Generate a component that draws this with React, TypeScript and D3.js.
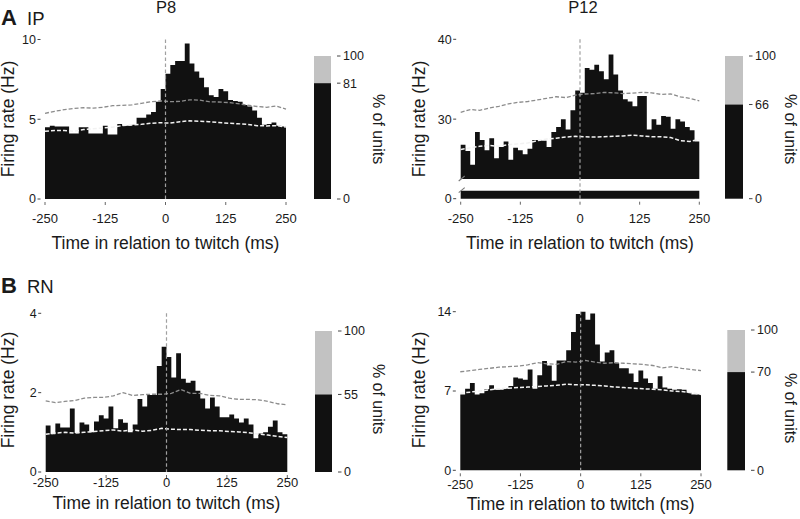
import React from 'react';
import * as d3 from 'd3';

// ---------- DATA ----------
const binStarts = [-250,-240,-230,-220,-210,-200,-190,-180,-170,-160,-150,-140,-130,-120,-110,-100,-90,-80,-70,-60,-50,-40,-30,-20,-10,0,10,20,30,40,50,60,70,80,90,100,110,120,130,140,150,160,170,180,190,200,210,220,230,240];
const binWidth = 10;
const lineTimes = [-250,-230,-210,-190,-170,-150,-130,-110,-90,-70,-50,-30,-10,10,30,50,70,90,110,130,150,170,190,210,230,250];
const xTickValues = [-250, -125, 0, 125, 250];

// IP, P8
const ipP8Rates = [4.5,4.6,4.55,4.55,4.55,4.1,4.1,4.5,4.5,4.1,4.1,4.1,4.6,4.05,4.05,4.7,4.6,4.6,4.65,5.1,5.1,5.3,5.45,6.1,6.9,7.85,8.4,8.65,8.65,9.75,8.5,8.0,7.6,7.0,6.5,6.4,6.9,6.75,6.2,6.15,6.1,5.9,5.8,5.55,5.1,4.65,4.7,4.8,4.6,4.55];
const ipP8Upper = [5.37,5.5,5.6,5.68,5.72,5.7,5.75,5.85,5.87,5.9,6.0,6.1,6.15,6.1,6.12,6.22,6.2,6.1,6.08,6.05,5.98,5.88,5.8,5.75,5.83,5.64];
const ipP8Mean = [4.25,4.3,4.3,4.25,4.35,4.4,4.45,4.5,4.6,4.65,4.68,4.75,4.78,4.76,4.85,4.9,4.88,4.85,4.8,4.75,4.72,4.68,4.6,4.58,4.6,4.52];
const ipP8Pct = 81;
const ipP8YTicks = [0, 5, 10];

// IP, P12
const ipP12Rates = [26.8,26.0,24.3,28.4,27.4,26.1,27.6,25.1,26.5,27.2,24.9,26.4,26.1,25.6,26.3,27.4,27.4,27.3,26.5,28.4,29.0,30.0,28.7,31.1,33.6,33.3,36.4,36.2,36.8,36.0,35.0,38.1,35.6,33.6,32.5,32.2,31.6,32.9,32.9,28.7,30.0,29.3,30.4,30.3,28.8,30.0,29.7,29.0,28.6,27.2];
const ipP12Upper = [30.85,31.2,31.1,31.4,31.6,31.9,32.1,32.2,32.4,32.6,32.8,32.7,33.0,33.15,33.2,33.35,33.3,33.2,33.25,33.35,33.3,33.1,33.15,32.8,32.6,32.3];
const ipP12Mean = [26.2,26.4,26.6,26.7,26.6,26.8,26.9,27.0,27.3,27.5,27.6,27.75,27.85,27.8,27.75,27.8,27.85,27.9,28.0,27.9,27.8,27.8,27.7,27.3,27.2,27.45];
const ipP12Pct = 66;
const ipP12YTicks = [0, 30, 40];

// RN, P8
const rnP8Rates = [1.17,0.95,1.22,1.12,1.12,1.6,0.98,1.25,1.2,1.0,1.27,1.43,1.35,1.65,1.1,1.33,1.24,1.0,1.2,1.84,1.65,1.94,1.94,2.67,3.16,2.9,2.38,2.99,2.35,2.25,2.3,2.05,1.85,1.6,1.88,1.65,1.38,1.38,1.45,1.35,1.25,1.35,1.2,0.85,0.97,1.0,1.14,1.3,1.0,0.95];
const rnP8Upper = [1.79,1.75,1.78,1.8,1.86,1.88,1.88,1.92,2.0,1.93,1.95,1.96,1.96,1.98,2.08,1.98,1.98,1.93,1.92,1.86,1.83,1.83,1.82,1.78,1.72,1.69];
const rnP8Mean = [0.95,0.98,1.0,0.98,1.0,1.02,1.04,1.06,1.03,1.06,1.03,1.05,1.1,1.08,1.07,1.07,1.05,1.04,1.04,1.02,1.01,0.99,0.96,0.93,0.9,0.87];
const rnP8Pct = 55;
const rnP8YTicks = [0, 2, 4];

// RN, P12
const rnP12Rates = [6.7,7.2,7.7,6.7,6.8,7.15,7.5,7.1,7.1,7.2,7.45,8.2,8.1,8.0,8.9,7.2,8.4,9.65,9.25,7.9,9.7,9.7,10.6,12.2,13.8,14.0,13.3,13.85,11.1,9.6,10.4,10.6,9.45,9.0,9.0,8.55,7.8,8.8,8.1,7.7,7.2,8.3,7.3,7.2,7.1,7.15,7.1,6.85,6.7,6.7];
const rnP12Upper = [8.7,8.8,8.9,9.0,9.1,9.15,9.2,9.3,9.5,9.4,9.35,9.6,9.55,9.7,9.55,9.45,9.5,9.45,9.4,9.35,9.25,9.05,9.15,9.0,8.9,8.8];
const rnP12Mean = [6.8,6.9,7.0,7.1,7.2,7.25,7.3,7.35,7.4,7.45,7.5,7.6,7.55,7.55,7.5,7.45,7.35,7.3,7.25,7.2,7.15,7.1,7.0,6.95,6.85,6.7];
const rnP12Pct = 70;
const rnP12YTicks = [0, 7, 14];

// ---------- LAYOUT ----------
const FONT = '"Liberation Sans", Arial, Helvetica, sans-serif';
const TEXT = '#1a1a1a';

const layoutIpP8 = {
  x0: 45, x1: 286, yMin: 0, yMax: 10, yMinPx: 199, yMaxPx: 39.5,
  cb: { x: 314, w: 17, top: 56, bottom: 199 },
  tickLabelY: 222.5, titleY: 249, yLabelX: 14, yLabelY: 119, pctLabelX: 373, pctLabelY: 129,
};
const layoutIpP12 = {
  x0: 460.7, x1: 699.3, yMin: 22.5, yMax: 40, yMinPx: 179, yMaxPx: 39.3,
  broken: { max: 1, top: 190.7, bottom: 198.7 },
  cb: { x: 725, w: 18, top: 56, bottom: 198.7 },
  tickLabelY: 222.5, titleY: 249, yLabelX: 425, yLabelY: 119, pctLabelX: 785, pctLabelY: 129,
};
const layoutRnP8 = {
  x0: 45.7, x1: 287.3, yMin: 0, yMax: 4, yMinPx: 472, yMaxPx: 313.3,
  cb: { x: 315, w: 17, top: 331, bottom: 472 },
  tickLabelY: 487, titleY: 509, yLabelX: 14, yLabelY: 390, pctLabelX: 373, pctLabelY: 399,
};
const layoutRnP12 = {
  x0: 460.3, x1: 701, yMin: 0, yMax: 14, yMinPx: 470.3, yMaxPx: 311.7,
  cb: { x: 727.3, w: 17.7, top: 330, bottom: 470.3 },
  tickLabelY: 489, titleY: 510, yLabelX: 425, yLabelY: 390, pctLabelX: 785, pctLabelY: 408,
};

type PanelProps = { cfg: any; rates: number[]; upper: number[]; mean: number[]; pct: number; yTicks: number[] };

function Panel({ cfg, rates, upper, mean, pct, yTicks }: PanelProps) {
  const x = d3.scaleLinear().domain([-250, 250]).range([cfg.x0, cfg.x1]);
  const y = d3.scaleLinear().domain([cfg.yMin, cfg.yMax]).range([cfg.yMinPx, cfg.yMaxPx]);
  const yLow = cfg.broken
    ? d3.scaleLinear().domain([0, cfg.broken.max]).range([cfg.broken.bottom, cfg.broken.top])
    : null;
  const bottomPx = cfg.broken ? cfg.broken.bottom : y(0);

  const pts: [number, number][] = binStarts.map((t, i) => [t, rates[i]] as [number, number]);
  pts.push([binStarts[binStarts.length - 1] + binWidth, rates[rates.length - 1]]);

  const area = d3.area<[number, number]>()
    .curve(d3.curveStepAfter)
    .x(d => x(d[0]))
    .y0(y(cfg.yMin))
    .y1(d => y(Math.max(d[1], cfg.yMin)));

  const lowArea = yLow
    ? d3.area<[number, number]>()
        .curve(d3.curveStepAfter)
        .x(d => x(d[0]))
        .y0(yLow(0))
        .y1(d => yLow(Math.min(d[1], cfg.broken.max)))
    : null;

  const line = d3.line<number>()
    .x((_, i) => x(lineTimes[i]))
    .y(d => y(d));

  const cbScale = d3.scaleLinear().domain([0, 100]).range([cfg.cb.bottom, cfg.cb.top]);
  const cbTicks = [0, pct, 100];

  const yPos = (v: number) => (yLow && v < cfg.yMin ? yLow(v) : y(v));
  const midX = (cfg.x0 + cfg.x1) / 2;

  return (
    <g>
      <path d={area(pts) || ''} fill="#111" />
      {lowArea && <path d={lowArea(pts) || ''} fill="#111" />}
      {cfg.broken && (
        <g stroke="#777" strokeWidth={1.1}>
          <line x1={cfg.x0 - 2} y1={cfg.yMinPx + 2} x2={cfg.x0 + 4} y2={cfg.yMinPx - 3} />
          <line x1={cfg.x0 - 2} y1={cfg.broken.top + 2} x2={cfg.x0 + 4} y2={cfg.broken.top - 3} />
        </g>
      )}
      <path d={line(upper) || ''} fill="none" stroke="#8c8c8c" strokeWidth={1.3} strokeDasharray="4,2" />
      <path d={line(mean) || ''} fill="none" stroke="#f2f2f2" strokeWidth={1.5} strokeDasharray="4,2" />
      <line x1={x(0)} x2={x(0)} y1={y(cfg.yMax)} y2={bottomPx} stroke="#a0a0a0" strokeWidth={1.2} strokeDasharray="3.5,2.5" />

      {/* y ticks */}
      {yTicks.map(v => (
        <g key={'y' + v}>
          <text x={cfg.x0 - 9} y={yPos(v)} dy="0.35em" textAnchor="end" fontSize={12.5} fontFamily={FONT} fill={TEXT}>{v}</text>
          <line x1={cfg.x0 - 7.5} x2={cfg.x0 - 4.5} y1={yPos(v)} y2={yPos(v)} stroke="#444" strokeWidth={1} />
        </g>
      ))}

      {/* x ticks */}
      {xTickValues.map(v => (
        <g key={'x' + v}>
          <line x1={x(v)} x2={x(v)} y1={bottomPx + 3} y2={bottomPx + 6} stroke="#666" strokeWidth={1} />
          <text x={x(v)} y={cfg.tickLabelY} textAnchor="middle" fontSize={13} fontFamily={FONT} fill={TEXT}>{v}</text>
        </g>
      ))}
      <text x={midX} y={cfg.titleY} textAnchor="middle" fontSize={17.5} fontFamily={FONT} fill={TEXT}>Time in relation to twitch (ms)</text>
      <text transform={`translate(${cfg.yLabelX},${cfg.yLabelY}) rotate(-90)`} textAnchor="middle" fontSize={17.5} fontFamily={FONT} fill={TEXT}>Firing rate (Hz)</text>

      {/* colour bar */}
      <rect x={cfg.cb.x} y={cbScale(100)} width={cfg.cb.w} height={cbScale(pct) - cbScale(100)} fill="#c2c2c2" />
      <rect x={cfg.cb.x} y={cbScale(pct)} width={cfg.cb.w} height={cbScale(0) - cbScale(pct)} fill="#111" />
      {cbTicks.map(v => (
        <g key={'c' + v}>
          <line x1={cfg.cb.x + cfg.cb.w + 6} x2={cfg.cb.x + cfg.cb.w + 9.5} y1={cbScale(v)} y2={cbScale(v)} stroke="#444" strokeWidth={1} />
          <text x={cfg.cb.x + cfg.cb.w + 12} y={cbScale(v)} dy="0.35em" fontSize={12.5} fontFamily={FONT} fill={TEXT}>{v}</text>
        </g>
      ))}
      <text transform={`translate(${cfg.pctLabelX},${cfg.pctLabelY}) rotate(90)`} textAnchor="middle" fontSize={16} fontFamily={FONT} fill={TEXT}>% of units</text>
    </g>
  );
}

export default function App() {
  return (
    <svg width={800} height={519} viewBox="0 0 800 519" style={{ position: 'absolute', left: 0, top: 0, background: '#fff' }}>
      <rect x={0} y={0} width={800} height={519} fill="#fff" />
      <text x={1} y={24.5} fontSize={22} fontWeight="bold" fontFamily={FONT} fill={TEXT}>A</text>
      <text x={27} y={24.5} fontSize={18.5} fontFamily={FONT} fill={TEXT}>IP</text>
      <text x={1} y={293} fontSize={22} fontWeight="bold" fontFamily={FONT} fill={TEXT}>B</text>
      <text x={27} y={293} fontSize={18.5} fontFamily={FONT} fill={TEXT}>RN</text>
      <text x={166} y={13} textAnchor="middle" fontSize={16.5} fontFamily={FONT} fill={TEXT}>P8</text>
      <text x={583} y={13} textAnchor="middle" fontSize={16.5} fontFamily={FONT} fill={TEXT}>P12</text>

      <Panel cfg={layoutIpP8} rates={ipP8Rates} upper={ipP8Upper} mean={ipP8Mean} pct={ipP8Pct} yTicks={ipP8YTicks} />
      <Panel cfg={layoutIpP12} rates={ipP12Rates} upper={ipP12Upper} mean={ipP12Mean} pct={ipP12Pct} yTicks={ipP12YTicks} />
      <Panel cfg={layoutRnP8} rates={rnP8Rates} upper={rnP8Upper} mean={rnP8Mean} pct={rnP8Pct} yTicks={rnP8YTicks} />
      <Panel cfg={layoutRnP12} rates={rnP12Rates} upper={rnP12Upper} mean={rnP12Mean} pct={rnP12Pct} yTicks={rnP12YTicks} />
    </svg>
  );
}
